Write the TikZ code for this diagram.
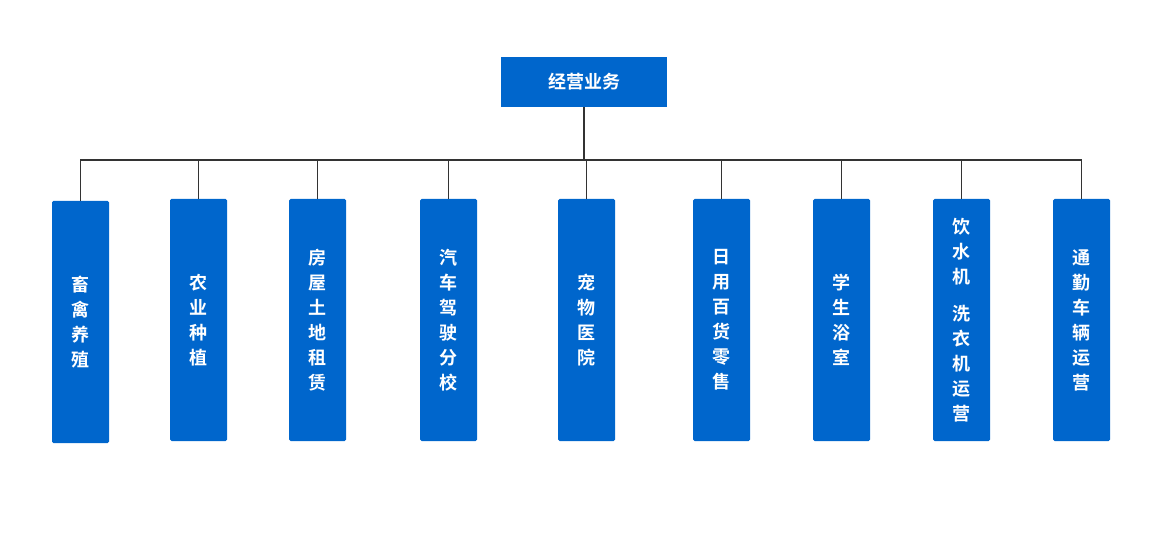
\documentclass[tikz,border=0pt]{standalone}
\usepackage{fontspec}
\setmainfont{Noto Sans CJK SC}[BoldFont={Noto Sans CJK SC Bold}]
\begin{document}
\begin{tikzpicture}[x=1pt,y=-1pt,
 box/.style={fill={rgb,255:red,0;green,102;blue,204},text=white,font=\bfseries\fontsize{18}{25}\selectfont,inner sep=0pt,align=center},
 child/.style={box,minimum width=57pt,minimum height=242pt,rounded corners=1.5pt},
 ln/.style={draw={rgb,255:red,51;green,51;blue,51},line width=1.5pt}]
\useasboundingbox (0,0) rectangle (1165,545);
\node[box,minimum width=166pt,minimum height=50pt] (top) at (584,82) {经营业务};
\coordinate (bus) at (584,160);
\node[child] (c1) at (80.5,322) {畜\\禽\\养\\殖};
\node[child] (c2) at (198.5,320) {农\\业\\种\\植};
\node[child] (c3) at (317.5,320) {房\\屋\\土\\地\\租\\赁};
\node[child] (c4) at (448.5,320) {汽\\车\\驾\\驶\\分\\校};
\node[child] (c5) at (586.5,320) {宠\\物\\医\\院};
\node[child] (c6) at (721.5,320) {日\\用\\百\\货\\零\\售};
\node[child] (c7) at (841.5,320) {学\\生\\浴\\室};
\node[child] (c8) at (961.5,320) {饮\\水\\机\\[12pt] 洗\\衣\\机\\运\\营};
\node[child] (c9) at (1081.5,320) {通\\勤\\车\\辆\\运\\营};
\draw[ln] (top.south) -- (bus);
\foreach \i in {1,...,9}{\draw[ln] (c\i.north) |- (bus);}
\end{tikzpicture}
\end{document}
